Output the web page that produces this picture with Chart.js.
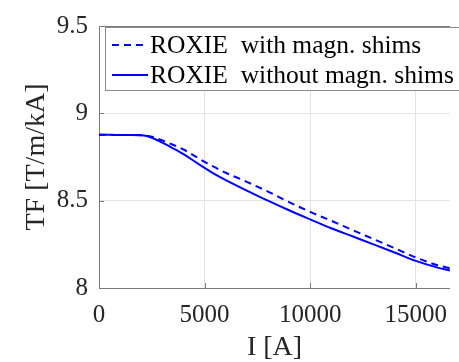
<!DOCTYPE html>
<html>
<head>
<meta charset="utf-8">
<script src="https://cdn.jsdelivr.net/npm/chart.js@4.4.0/dist/chart.umd.min.js"></script>
<style>
  html, body { margin: 0; padding: 0; background: #fff; }
  canvas { display: block; }
</style>
</head>
<body>
<canvas id="tfChart" width="459" height="362"></canvas>
<script>
// excitation current [A]
const current = [0, 500, 1000, 1500, 2000, 2260, 2500, 3000, 3500, 4000, 4500, 5000, 5500, 6000,
  7000, 8000, 9000, 10000, 11000, 12000, 13000, 14000, 15000, 16000, 16620];
// transfer function [T/m/kA]
const tfWithShims = [8.877, 8.877, 8.876, 8.876, 8.875, 8.872, 8.866, 8.845, 8.820, 8.793, 8.758, 8.722, 8.690, 8.660,
  8.608, 8.552, 8.492, 8.436, 8.385, 8.332, 8.280, 8.228, 8.175, 8.132, 8.113];
const tfWithoutShims = [8.877, 8.877, 8.876, 8.876, 8.875, 8.870, 8.860, 8.832, 8.800, 8.766, 8.727, 8.688, 8.650, 8.618,
  8.558, 8.500, 8.445, 8.393, 8.342, 8.296, 8.250, 8.203, 8.155, 8.118, 8.100];
const seriesLabels = ["ROXIE  with magn. shims", "ROXIE  without magn. shims"];
const xTicks = [0, 5000, 10000, 15000];
const yTicks = [8, 8.5, 9, 9.5];
const xMax = 16620;

const serif = "'Liberation Serif', 'Times New Roman', serif";
const textColor = "#262626";
const gridColor = "#e3e3e3";
const axisColor = "#7a7a7a";

// MATLAB style box: top edge, inward ticks and legend box
const frame = {
  id: "frame",
  afterDraw(chart) {
    const ctx = chart.ctx;
    const a = chart.chartArea;
    const xs = chart.scales.x, ys = chart.scales.y;
    ctx.save();
    ctx.strokeStyle = axisColor;
    ctx.lineWidth = 1;
    ctx.beginPath();
    ctx.moveTo(a.left, a.top + 0.5);
    ctx.lineTo(a.right, a.top + 0.5);
    xTicks.forEach(v => {
      const px = Math.round(xs.getPixelForValue(v)) + 0.5;
      ctx.moveTo(px, a.bottom);
      ctx.lineTo(px, a.bottom - 5);
      ctx.moveTo(px, a.top);
      ctx.lineTo(px, a.top + 5);
    });
    yTicks.forEach(v => {
      const py = Math.round(ys.getPixelForValue(v)) + 0.5;
      ctx.moveTo(a.left, py);
      ctx.lineTo(a.left + 5, py);
    });
    ctx.stroke();

    // legend
    const bx = 105, by = 27, bh = 63;
    ctx.fillStyle = "#fff";
    ctx.fillRect(bx, by, 400, bh);
    ctx.strokeStyle = "#8a8a8a";
    ctx.strokeRect(bx + 0.5, by + 0.5, 400, bh);
    ctx.font = "25.5px " + serif;
    ctx.textBaseline = "middle";
    chart.data.datasets.forEach((ds, i) => {
      const y = by + 18 + i * 30;
      ctx.strokeStyle = ds.borderColor;
      ctx.lineWidth = 2;
      ctx.setLineDash(ds.borderDash || []);
      ctx.beginPath();
      ctx.moveTo(112, y);
      ctx.lineTo(148, y);
      ctx.stroke();
      ctx.setLineDash([]);
      ctx.fillStyle = "#000";
      ctx.fillText(ds.label, 150, y + 1);
    });
    ctx.restore();
  }
};

new Chart(document.getElementById("tfChart"), {
  type: "line",
  data: {
    datasets: [
      {
        label: seriesLabels[0],
        data: current.map((c, i) => ({ x: c, y: tfWithShims[i] })),
        borderColor: "#0000ff",
        borderWidth: 2,
        borderDash: [7, 5],
        pointRadius: 0,
        cubicInterpolationMode: "monotone"
      },
      {
        label: seriesLabels[1],
        data: current.map((c, i) => ({ x: c, y: tfWithoutShims[i] })),
        borderColor: "#0000ff",
        borderWidth: 2,
        pointRadius: 0,
        cubicInterpolationMode: "monotone"
      }
    ]
  },
  options: {
    responsive: false,
    animation: false,
    layout: { padding: { top: 18, left: 0, right: 0, bottom: 0 } },
    plugins: { legend: { display: false }, tooltip: { enabled: false } },
    scales: {
      x: {
        type: "linear",
        min: 0,
        max: xMax,
        afterBuildTicks: s => { s.ticks = xTicks.map(v => ({ value: v })); },
        afterFit: s => { s.height = 74; },
        grid: { color: gridColor, drawTicks: false },
        border: { color: axisColor },
        ticks: { color: textColor, font: { family: serif, size: 25 }, padding: 12, maxRotation: 0, callback: v => String(v) },
        title: { display: true, text: "I [A]", color: textColor, font: { family: serif, size: 28, lineHeight: 1 }, padding: 0 }
      },
      y: {
        type: "linear",
        min: 8,
        max: 9.5,
        afterBuildTicks: s => { s.ticks = yTicks.map(v => ({ value: v })); },
        afterFit: s => { s.width = 99; },
        grid: { color: gridColor, drawTicks: false },
        border: { color: axisColor },
        ticks: { color: textColor, font: { family: serif, size: 25 }, padding: 11, callback: v => String(v) },
        title: { display: true, text: "TF [T/m/kA]", color: textColor, font: { family: serif, size: 28, lineHeight: 1 }, padding: { top: 23, bottom: 0 } }
      }
    }
  },
  plugins: [frame]
});
</script>
</body>
</html>
